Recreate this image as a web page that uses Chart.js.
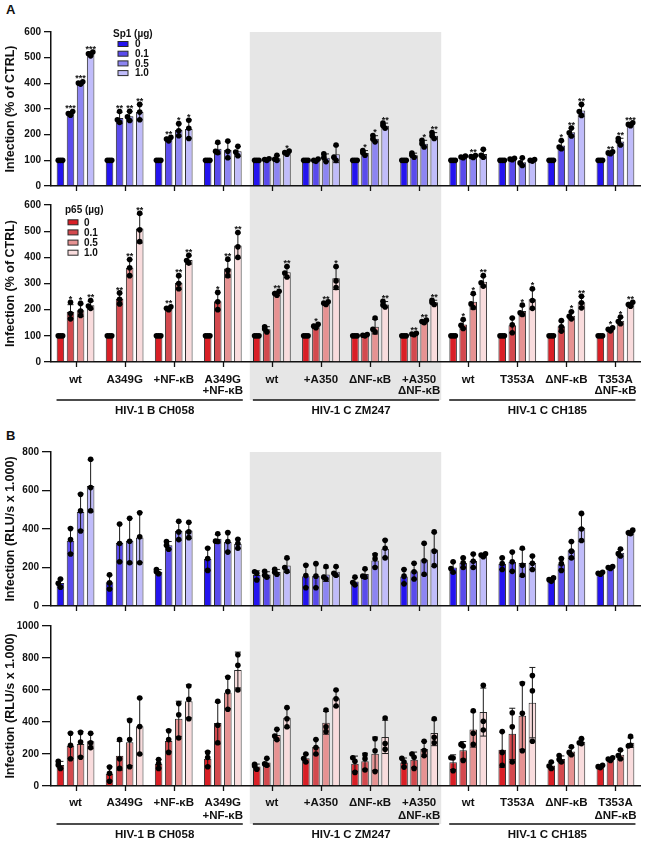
<!DOCTYPE html>
<html><head><meta charset="utf-8">
<script src="https://cdn.jsdelivr.net/npm/chart.js@4.4.0/dist/chart.umd.min.js"></script>
<style>
body{margin:0;background:#fff;}
#wrap{position:relative;width:646px;height:841px;background:#fff;overflow:hidden;font-family:"Liberation Sans",Arial,sans-serif;}
canvas{position:absolute;left:0;}
.pl{position:absolute;font-weight:bold;font-size:13px;line-height:13px;color:#111;}
</style></head><body>
<div id="wrap">
<div class="pl" style="left:6px;top:3px">A</div>
<div class="pl" style="left:6px;top:429px">B</div>
<canvas id="a1" width="646" height="195" style="top:0px"></canvas>
<canvas id="a2" width="646" height="230" style="top:195px"></canvas>
<canvas id="b1" width="646" height="190" style="top:425px"></canvas>
<canvas id="b2" width="646" height="226" style="top:615px"></canvas>
</div>
<script>
// ---------- DATA ----------
const categories = ['wt','A349G','+NF-κB',['A349G','+NF-κB'],'wt','+A350','ΔNF-κB',['+A350','ΔNF-κB'],'wt','T353A','ΔNF-κB',['T353A','ΔNF-κB']];
const groups = ['HIV-1 B CH058','HIV-1 C ZM247','HIV-1 C CH185'];
const doseLabels = ['0','0.1','0.5','1.0'];
const sp1Colors = ['#2414ef','#5a4bec','#8d85f2','#c0bcfa'];
const p65Colors = ['#d91f26','#d3494e','#e69292','#f9dcdd'];

// Panel A top: Sp1, % of CTRL
const aTopMean = [
  [100,100,100,100,100,100,100,100,100,100,100,100],
  [283,265,183,145,103,100,129,120,113,105,158,129],
  [401,272,218,140,108,110,184,165,115,93,209,173],
  [515,288,222,135,130,124,235,196,125,100,294,240]];
const aTopSD = [
  [0,0,0,0,0,0,0,0,0,0,0,0],
  [7,22,7,20,3,4,9,8,4,3,17,4],
  [5,18,24,33,10,15,12,13,4,15,16,13],
  [8,30,36,19,6,33,10,12,16,3,23,6]];
const aTopDots = [
  [[100,100,100],[100,100,100],[100,100,100],[100,100,100],[100,100,100],[100,100,100],[100,100,100],[100,100,100],[100,100,100],[100,100,100],[100,100,100],[100,100,100]],
  [[276,282,290],[248,258,290],[176,183,190],[130,135,170],[100,103,106],[96,100,105],[120,130,138],[112,120,128],[110,113,117],[102,105,108],[145,152,177],[126,129,133]],
  [[397,401,406],[255,270,291],[196,215,243],[110,135,175],[100,104,120],[95,110,125],[172,183,197],[152,165,178],[111,115,119],[80,90,110],[195,207,226],[160,174,185]],
  [[507,515,522],[258,288,318],[185,225,256],[118,132,155],[124,130,136],[100,112,160],[225,236,245],[185,196,208],[112,120,143],[97,100,103],[275,290,318],[235,240,246]]];
const aTopStars = [
  ['','','','','','','','','','','',''],
  ['***','**','**','','','','*','','','','*','**'],
  ['***','**','*','','','','*','*','**','','**','**'],
  ['***','**','*','','*','','**','**','','','**','***']];

// Panel A bottom: p65, % of CTRL
const aBotMean = [
  [100,100,100,100,100,100,100,100,100,100,100,100],
  [192,242,205,232,125,137,102,107,143,140,137,125],
  [198,360,303,357,262,225,135,155,230,195,177,158],
  [217,510,390,445,343,320,220,228,307,240,228,220]];
const aBotSD = [
  [0,0,0,0,0,0,0,0,0,0,0,0],
  [27,21,6,33,10,7,3,3,17,28,20,6],
  [24,31,25,33,8,5,28,5,28,19,14,13],
  [15,55,16,48,20,43,11,8,20,38,22,8]];
const aBotDots = [
  [[100,100,100],[100,100,100],[100,100,100],[100,100,100],[100,100,100],[100,100,100],[100,100,100],[100,100,100],[100,100,100],[100,100,100],[100,100,100],[100,100,100]],
  [[165,185,228],[222,240,264],[200,205,211],[200,230,266],[115,126,135],[131,137,144],[100,102,105],[104,107,110],[128,140,162],[112,142,168],[118,135,158],[119,125,131]],
  [[178,195,224],[330,360,392],[280,300,330],[330,350,393],[255,262,270],[220,225,230],[115,125,168],[150,155,160],[208,222,262],[182,188,218],[165,175,192],[146,155,172]],
  [[205,214,235],[460,505,568],[378,388,408],[400,440,495],[325,340,365],[285,310,365],[210,218,232],[220,227,236],[290,303,330],[205,235,280],[207,226,251],[213,220,228]]];
const aBotStars = [
  ['','','','','','','','','','','',''],
  ['*','**','**','*','','*','','**','*','','','*'],
  ['*','**','**','**','**','**','','**','*','*','*','*'],
  ['**','**','**','**','**','*','**','**','**','*','**','**']];

// Panel B top: Sp1, RLU/s x 1.000
const bTopMean = [
  [119,124,178,244,161,155,127,153,200,220,137,170],
  [339,327,315,349,163,157,166,180,225,230,217,200],
  [488,339,390,332,177,163,237,242,234,224,290,276],
  [624,356,392,324,210,178,297,293,264,224,407,383]];
const bTopSD = [
  [21,36,11,58,22,58,21,37,28,30,9,5],
  [66,98,20,22,15,62,23,41,25,50,31,5],
  [95,116,48,51,13,35,34,81,35,71,43,18],
  [135,130,41,24,36,24,46,88,8,35,71,10]];
const bTopDots = [
  [[98,118,140],[88,120,162],[168,178,190],[185,247,300],[135,170,178],[95,158,212],[110,122,150],[115,155,190],[175,195,230],[190,220,250],[128,137,146],[165,170,175]],
  [[270,345,402],[230,325,426],[295,315,335],[335,337,375],[150,160,180],[95,155,220],[150,155,193],[140,178,222],[200,225,250],[180,230,280],[185,220,246],[195,200,205]],
  [[390,495,580],[225,336,456],[345,385,440],[280,335,381],[165,175,191],[140,150,205],[200,245,266],[165,235,326],[200,232,270],[160,212,300],[250,285,335],[260,272,296]],
  [[495,615,762],[225,360,484],[355,385,435],[300,325,347],[180,200,250],[160,170,205],[250,300,341],[210,285,385],[256,265,271],[190,222,260],[340,400,481],[375,380,394]]];

// Panel B bottom: p65, RLU/s x 1.000
const bBotMean = [
  [132,76,139,170,122,174,139,147,149,227,128,122],
  [252,189,282,393,147,244,155,164,223,326,168,168],
  [263,273,420,584,319,395,202,231,353,439,216,195],
  [280,374,529,725,426,548,307,332,462,521,277,271]];
const bBotSD = [
  [22,44,27,46,15,25,48,28,46,110,20,8],
  [80,90,68,130,23,45,50,48,55,160,20,8],
  [78,145,110,100,34,71,104,47,110,210,25,28],
  [47,175,103,112,61,50,104,80,150,220,17,30]];
const bBotDots = [
  [[110,132,155],[30,80,118],[110,140,165],[120,178,210],[105,125,135],[150,172,200],[85,155,177],[118,150,173],[95,175,177],[130,210,340],[110,125,150],[115,121,130]],
  [[170,255,330],[110,170,290],[210,290,345],[270,380,530],[130,138,173],[200,240,290],[100,170,195],[110,180,200],[160,250,260],[150,370,458],[150,165,190],[160,168,176]],
  [[180,275,335],[120,290,410],[300,445,515],[480,590,680],[290,312,355],[340,370,475],[90,220,295],[190,222,280],[260,330,470],[220,455,640],[195,210,245],[170,190,225]],
  [[240,270,330],[200,372,550],[420,542,625],[600,755,820],[370,420,490],[500,545,600],[230,265,425],[270,305,420],[350,405,630],[280,595,690],[265,270,296],[255,250,310]]];

// ---------- DRAWING ----------
Chart.defaults.font.family = '"Liberation Sans", Arial, sans-serif';
Chart.defaults.font.weight = 'bold';
Chart.defaults.color = '#111';

const panels = {
  a1:{mean:aTopMean, sd:aTopSD, dots:aTopDots, stars:aTopStars, colors:sp1Colors, legend:{title:'Sp1 (µg)', tx:113, ty:34, bx:118, rows:[44,53.7,63.4,73.1], lx:135}, grayTop:'area', grayBot:'canvas', groups:false},
  a2:{mean:aBotMean, sd:aBotSD, dots:aBotDots, stars:aBotStars, colors:p65Colors, legend:{title:'p65 (µg)', tx:65, ty:15, bx:68, rows:[27.3,37.4,47.6,57.7], lx:84}, grayTop:'canvas', grayBot:'group', groups:true},
  b1:{mean:bTopMean, sd:bTopSD, dots:bTopDots, stars:null, colors:sp1Colors, legend:null, grayTop:'area', grayBot:'canvas', groups:false},
  b2:{mean:bBotMean, sd:bBotSD, dots:bBotDots, stars:null, colors:p65Colors, legend:null, grayTop:'canvas', grayBot:'group', groups:true}
};

const decor = {
  id:'decor',
  beforeDraw(chart){
    const p = panels[chart.canvas.id];
    const {ctx, chartArea, scales:{x}} = chart;
    const cw = x.width/categories.length;
    const x0 = x.getPixelForValue(4) - 0.45*cw, x1 = x.getPixelForValue(7) + 0.45*cw;
    const y0 = p.grayTop==='area' ? chartArea.top : 0;
    const y1 = p.grayBot==='group' ? chartArea.bottom + 38 : chart.height;
    ctx.save(); ctx.fillStyle = '#e6e6e6'; ctx.fillRect(x0, y0, x1-x0, y1-y0); ctx.restore();
  },
  afterDatasetsDraw(chart){
    const p = panels[chart.canvas.id];
    const {ctx, chartArea, scales:{x, y}} = chart;
    ctx.save();
    // category tick marks below the x axis, at category centres
    ctx.strokeStyle = '#111'; ctx.lineWidth = 1.3;
    ctx.beginPath();
    categories.forEach((c,k)=>{
      const tx = Math.round(x.getPixelForValue(k)) + 0.5;
      ctx.moveTo(tx, chartArea.bottom); ctx.lineTo(tx, chartArea.bottom + 5);
    });
    ctx.stroke();
    p.mean.forEach((ser,i)=>{
      const meta = chart.getDatasetMeta(i);
      ser.forEach((m,j)=>{
        const cx = meta.data[j].x;
        const sd = p.sd[i][j];
        let top = y.getPixelForValue(m);
        if(sd>0){
          const yt = y.getPixelForValue(m+sd), yb = y.getPixelForValue(Math.max(0,m-sd));
          ctx.strokeStyle = '#1a1a1a'; ctx.lineWidth = 1;
          ctx.beginPath();
          ctx.moveTo(cx, yb); ctx.lineTo(cx, yt);
          ctx.moveTo(cx-3, yt); ctx.lineTo(cx+3, yt);
          ctx.moveTo(cx-3, yb); ctx.lineTo(cx+3, yb);
          ctx.stroke();
          top = Math.min(top, yt);
        }
        const ds = p.dots[i][j];
        const placed = [];
        ds.forEach(v=>{
          const py = y.getPixelForValue(v);
          const near = placed.filter(q=>Math.abs(q-py)<4).length;
          const off = [0,-2.2,2.2][Math.min(near,2)];
          placed.push(py);
          ctx.fillStyle = '#000';
          ctx.beginPath(); ctx.arc(cx+off, py, 2.8, 0, Math.PI*2); ctx.fill();
          top = Math.min(top, py-2.8);
        });
        if(p.stars){
          const s = p.stars[i][j];
          if(s){
            ctx.font = 'bold 9px "Liberation Sans", Arial, sans-serif';
            ctx.textAlign = 'center'; ctx.textBaseline = 'alphabetic';
            ctx.fillStyle = '#111';
            ctx.fillText(s, cx, top + 2.5);
          }
        }
      });
    });
    ctx.restore();
  },
  afterDraw(chart){
    const p = panels[chart.canvas.id];
    const {ctx, chartArea, scales:{x}} = chart;
    ctx.save();
    if(p.legend){
      const L = p.legend;
      ctx.font = 'bold 10px "Liberation Sans", Arial, sans-serif';
      ctx.textBaseline = 'middle'; ctx.textAlign = 'left'; ctx.fillStyle = '#111';
      ctx.fillText(L.title, L.tx, L.ty);
      chart.data.datasets.forEach((d,i)=>{
        const ry = L.rows[i];
        ctx.fillStyle = d.backgroundColor;
        ctx.fillRect(L.bx, ry-2.5, 10, 5);
        ctx.strokeStyle = '#2a2a2a'; ctx.lineWidth = 1;
        ctx.strokeRect(L.bx, ry-2.5, 10, 5);
        ctx.fillStyle = '#111';
        ctx.fillText(d.label, L.lx, ry+0.5);
      });
    }
    if(p.groups){
      const gy = chartArea.bottom + 38;
      groups.forEach((g,k)=>{
        const x0 = x.getPixelForValue(4*k) - 19, x1 = x.getPixelForValue(4*k+3) + 20;
        ctx.strokeStyle = '#111'; ctx.lineWidth = 1.5;
        ctx.beginPath(); ctx.moveTo(x0, gy); ctx.lineTo(x1, gy); ctx.stroke();
        ctx.font = 'bold 11.5px "Liberation Sans", Arial, sans-serif';
        ctx.textAlign = 'center'; ctx.textBaseline = 'middle'; ctx.fillStyle = '#111';
        ctx.fillText(g, (x0+x1)/2 + 5, gy + 11);
      });
    }
    ctx.restore();
  }
};

function makeChart(id, opt){
  const p = panels[id];
  return new Chart(document.getElementById(id), {
    type:'bar',
    data:{
      labels: categories,
      datasets: p.mean.map((m,i)=>({label: doseLabels[i], data: m, backgroundColor: p.colors[i], borderColor:'#2a2a2a', borderWidth:1, categoryPercentage:0.82, barPercentage:0.75}))
    },
    options:{
      responsive:false, animation:false, devicePixelRatio:1,
      layout:{padding:{top:opt.padTop, right:6, left:0, bottom:0}},
      plugins:{legend:{display:false}, tooltip:{enabled:false}},
      scales:{
        x:{
          grid:{display:false},
          border:{display:true, color:'#111', width:1.5},
          ticks:{display:opt.labels, autoSkip:false, maxRotation:0, minRotation:0, padding:opt.tp, color:'#111', font:{size:11.5, weight:'bold', lineHeight:opt.lh}},
          afterFit(s){ s.height = opt.xh; }
        },
        y:{
          min:0, max:opt.max,
          ticks:{stepSize:opt.step, padding:3, color:'#111', font:{size:10, weight:'bold'}, callback:(v)=>String(v)},
          grid:{display:true, drawOnChartArea:false, tickLength:opt.tl, color:'#111', lineWidth:1.3},
          border:{display:true, color:'#111', width:1.5},
          title:{display:true, text:opt.title, color:'#111', font:{size:12.5, weight:'bold'}, padding:{top:3, bottom:0}},
          afterFit(s){ s.width = 51; }
        }
      }
    },
    plugins:[decor]
  });
}

makeChart('a1', {padTop:32, xh:7, labels:false, max:600, step:100, tl:7, tp:4, title:'Infection (% of CTRL)', lh:1.1});
makeChart('a2', {padTop:10, xh:63, labels:true, max:600, step:100, tl:7, tp:4, title:'Infection (% of CTRL)', lh:0.95});
makeChart('b1', {padTop:27, xh:6, labels:false, max:800, step:200, tl:9, tp:4, title:'Infection (RLU/s x 1.000)', lh:1.1});
makeChart('b2', {padTop:11, xh:55, labels:true, max:1000, step:200, tl:9, tp:3, title:'Infection (RLU/s x 1.000)', lh:1.1});
</script>
</body></html>
